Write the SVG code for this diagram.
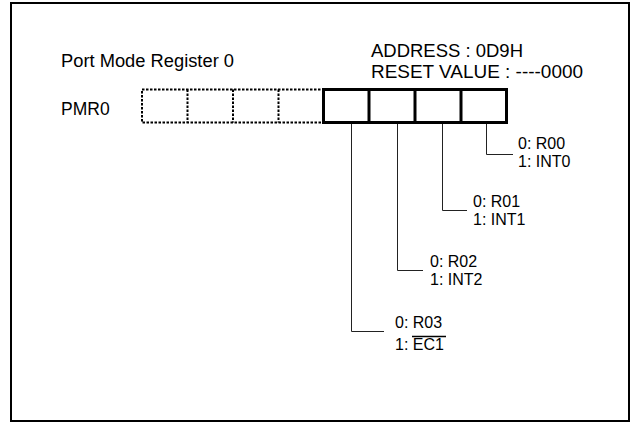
<svg xmlns="http://www.w3.org/2000/svg" width="631" height="423" viewBox="0 0 631 423">
<style>
text { font-family: "Liberation Sans", Arial, sans-serif; font-size: 17.5px; fill: #000; }
.lbl { font-size: 16px; }
.frame { fill: #fff; stroke: #000; stroke-width: 2; }
.dot { fill: none; stroke: #000; stroke-width: 2; stroke-dasharray: 2.5 1.5; }
.solid { fill: none; stroke: #000; stroke-width: 3; }
.conn { fill: none; stroke: #222; stroke-width: 1; }
</style>
<rect class="frame" x="11" y="3" width="618" height="418"/>
<g id="title">
<text x="61" y="67" textLength="173" lengthAdjust="spacingAndGlyphs">Port Mode Register 0</text>
</g>
<g id="address">
<text x="371" y="57" textLength="152" lengthAdjust="spacingAndGlyphs">ADDRESS : 0D9H</text>
<text x="371" y="78" textLength="212" lengthAdjust="spacingAndGlyphs">RESET VALUE : ----0000</text>
</g>
<g id="pmr0-label">
<text x="61" y="115">PMR0</text>
</g>
<g id="register">
<rect class="dot" x="142" y="89.5" width="181" height="33"/>
<line class="dot" x1="187.5" y1="89.5" x2="187.5" y2="122.5"/>
<line class="dot" x1="233" y1="89.5" x2="233" y2="122.5"/>
<line class="dot" x1="278.5" y1="89.5" x2="278.5" y2="122.5"/>
<rect class="solid" x="323.5" y="89.5" width="183" height="33"/>
<line class="solid" x1="369" y1="89.5" x2="369" y2="122.5"/>
<line class="solid" x1="415" y1="89.5" x2="415" y2="122.5"/>
<line class="solid" x1="461" y1="89.5" x2="461" y2="122.5"/>
</g>
<g id="connectors">
<path class="conn" d="M486.5 124 V154.5 H513"/>
<path class="conn" d="M442.5 124 V210.5 H467"/>
<path class="conn" d="M397.5 124 V270.5 H423"/>
<path class="conn" d="M351.5 124 V331.5 H384"/>
</g>
<g id="bit0">
<text class="lbl" x="518" y="149">0: R00</text>
<text class="lbl" x="518" y="167">1: INT0</text>
</g>
<g id="bit1">
<text class="lbl" x="473" y="207">0: R01</text>
<text class="lbl" x="473" y="225">1: INT1</text>
</g>
<g id="bit2">
<text class="lbl" x="430" y="267">0: R02</text>
<text class="lbl" x="430" y="285">1: INT2</text>
</g>
<g id="bit3">
<text class="lbl" x="395" y="328">0: R03</text>
<text class="lbl" x="395" y="350">1: EC1</text>
<line x1="412" y1="336.5" x2="446" y2="336.5" stroke="#000" stroke-width="1.5"/>
</g>
</svg>
